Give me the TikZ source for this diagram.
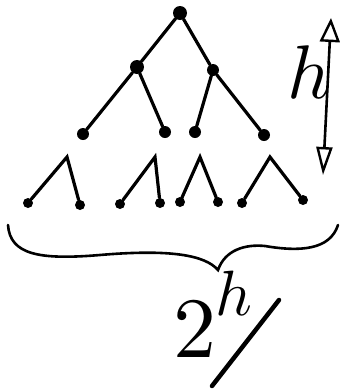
\documentclass[tikz,border=0pt]{standalone}
\usepackage{amsmath}
\usetikzlibrary{arrows.meta, positioning, calc}

\begin{document}
\begin{tikzpicture}[
    x=1pt, y=-1pt,
    vert/.style={circle, fill=black, inner sep=0pt, minimum size=14pt},
    mid/.style={circle, fill=black, inner sep=0pt, minimum size=12pt},
    leaf/.style={circle, fill=black, inner sep=0pt, minimum size=10pt},
    edge/.style={line width=3.2pt, line cap=round},
    brace/.style={line width=2.6pt, line cap=round},
    ht/.style={line width=2.6pt, {Triangle[open, length=28pt, width=16pt, line width=2.4pt]}-{Triangle[open, length=24pt, width=20pt, line width=2.4pt]}}
]
\useasboundingbox (0,0) rectangle (340,389);

% -------- Upper levels --------
\node[vert] (r)  at (180,13) {};
\node[vert] (a1) at (137,67) {};
\node[mid]  (a2) at (213,70) {};

\node[mid] (b1) at (83,134)  {};
\node[mid] (b2) at (165,132) {};
\node[mid] (b3) at (195,132) {};
\node[mid] (b4) at (264,135) {};

\draw[edge] (r) -- (a1);
\draw[edge] (r) -- (a2);
\draw[edge] (a1) -- (b1);
\draw[edge] (a1) -- (b2);
\draw[edge] (a2) -- (b3);
\draw[edge] (a2) -- (b4);

% -------- Bottom level --------
\foreach \i/\x in {1/67, 2/155, 3/200, 4/270} {
    \coordinate (c\i) at (\x,157);
}
\foreach \i/\x/\y in {1/28/203, 2/80/205, 3/120/204, 4/160/203,
                      5/180/202, 6/218/202, 7/242/203, 8/303/200} {
    \node[leaf] (l\i) at (\x,\y) {};
}
\foreach \i/\j/\k in {1/1/2, 2/3/4, 3/5/6, 4/7/8} {
    \draw[edge] (l\j) -- (c\i) -- (l\k);
}

% -------- Brace + count --------
\coordinate (bl) at (8,225);
\coordinate (bt) at (218,270);
\coordinate (br) at (338,225);
\draw[brace] (bl) .. controls (10,255) and (40,260) .. (100,255)
    .. controls (170,249) and (205,255) .. (bt)
    .. controls (225,250) and (245,244) .. (265,246)
    .. controls (300,252) and (330,250) .. (br);

\node[anchor=base west, inner sep=0pt, scale=8.6] (cnt) at (172,357) {$2$};
\node[anchor=base west, inner sep=0pt, scale=6.4] (ex) at (214,315) {$h$};
\coordinate (s1) at (212,386);
\coordinate (s2) at (279,300);
\draw[line width=4.5pt, line cap=round] (s1) -- (s2);

% -------- Height --------
\coordinate (htop) at (331,18);
\coordinate (hbot) at (323,175);
\draw[ht] (hbot) -- (htop);
\node[inner sep=0pt, scale=7.6] (hl) at (309,72) {$h$};

\end{tikzpicture}
\end{document}
